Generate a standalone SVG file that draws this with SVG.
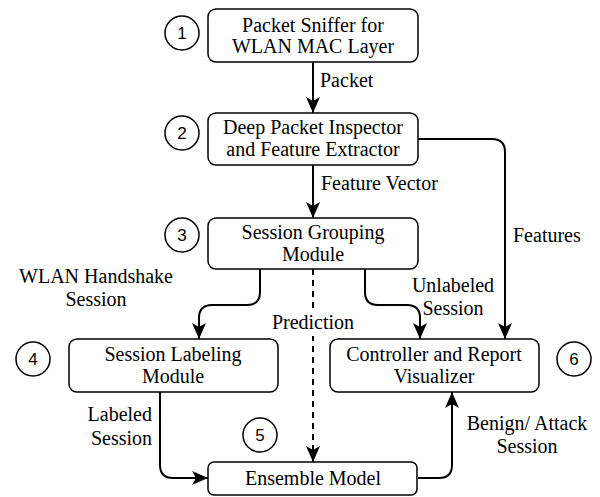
<svg xmlns="http://www.w3.org/2000/svg" width="600" height="497" viewBox="0 0 600 497" font-family="Liberation Serif, Times New Roman, serif">
<style>
.box{fill:#fff;stroke:#000;stroke-width:1.5}
.t{font-size:20px;fill:#000}
.c{text-anchor:middle}
.num circle{fill:#fff;stroke:#000;stroke-width:1.5}
.num text{font-size:17px;text-anchor:middle;fill:#000}
.e{fill:none;stroke:#000;stroke-width:2}
.d{stroke-dasharray:6 5}
</style>
<defs>
<marker id="ah" markerUnits="userSpaceOnUse" markerWidth="16" markerHeight="16" viewBox="0 0 16 16" refX="16" refY="8" orient="auto">
<path d="M0,1 L16,8 L0,15 L4,8 z" fill="#000"/>
</marker>
</defs>
<rect width="600" height="497" fill="#fff"/>
<g id="connectors">
<path class="e" d="M313,62 V113" marker-end="url(#ah)"/>
<path class="e" d="M313,165 V218" marker-end="url(#ah)"/>
<path class="e" d="M418,139 H492 Q505,139 505,152 V339" marker-end="url(#ah)"/>
<path class="e" d="M260,269 V292 Q260,305 247,305 H212 Q199,305 199,318 V339" marker-end="url(#ah)"/>
<path class="e" d="M365,269 V292 Q365,305 378,305 H407 Q420,305 420,318 V339" marker-end="url(#ah)"/>
<path class="e d" d="M313,269 V462" marker-end="url(#ah)"/>
<path class="e" d="M160,392 V465 Q160,478 173,478 H208" marker-end="url(#ah)"/>
<path class="e" d="M418,478 H439 Q452,478 452,465 V392" marker-end="url(#ah)"/>
<text class="t" x="320" y="87">Packet</text>
<text class="t" x="321" y="190">Feature Vector</text>
<text class="t" x="513" y="242">Features</text>
<text class="t c" x="96" y="283">WLAN Handshake</text>
<text class="t c" x="96" y="306">Session</text>
<rect x="268" y="312" width="90" height="24" fill="#fff"/>
<text class="t c" x="313" y="329">Prediction</text>
<text class="t c" x="453" y="292">Unlabeled</text>
<text class="t c" x="453" y="315">Session</text>
<text class="t" x="152" y="421" text-anchor="end">Labeled</text>
<text class="t" x="152" y="445" text-anchor="end">Session</text>
<text class="t c" x="527" y="430">Benign/ Attack</text>
<text class="t c" x="527" y="453">Session</text>
</g>
<g id="n1">
<rect class="box" x="208" y="9" width="210" height="53" rx="8"/>
<text class="t c" x="313" y="32">Packet Sniffer for</text>
<text class="t c" x="313" y="53">WLAN MAC Layer</text>
</g>
<g id="n2">
<rect class="box" x="208" y="113" width="210" height="52" rx="8"/>
<text class="t c" x="313" y="134">Deep Packet Inspector</text>
<text class="t c" x="313" y="156">and Feature Extractor</text>
</g>
<g id="n3">
<rect class="box" x="208" y="218" width="210" height="51" rx="8"/>
<text class="t c" x="313" y="239">Session Grouping</text>
<text class="t c" x="313" y="261">Module</text>
</g>
<g id="n4">
<rect class="box" x="69" y="339" width="209" height="53" rx="8"/>
<text class="t c" x="173" y="361">Session Labeling</text>
<text class="t c" x="173" y="383">Module</text>
</g>
<g id="n6">
<rect class="box" x="330" y="339" width="209" height="53" rx="8"/>
<text class="t c" x="434" y="361">Controller and Report</text>
<text class="t c" x="434" y="383">Visualizer</text>
</g>
<g id="n5">
<rect class="box" x="208" y="462" width="209" height="33" rx="6"/>
<text class="t c" x="313" y="485">Ensemble Model</text>
</g>
<g font-family="Liberation Sans, Arial, sans-serif">
<g id="num1" class="num"><circle cx="182" cy="33" r="17"/><text x="182" y="39">1</text></g>
<g id="num2" class="num"><circle cx="182" cy="133" r="17"/><text x="182" y="139">2</text></g>
<g id="num3" class="num"><circle cx="182" cy="235" r="17"/><text x="182" y="241">3</text></g>
<g id="num4" class="num"><circle cx="33" cy="359" r="17"/><text x="33" y="365">4</text></g>
<g id="num5" class="num"><circle cx="260" cy="435" r="17"/><text x="260" y="441">5</text></g>
<g id="num6" class="num"><circle cx="574" cy="359" r="17"/><text x="574" y="365">6</text></g>
</g>
</svg>
